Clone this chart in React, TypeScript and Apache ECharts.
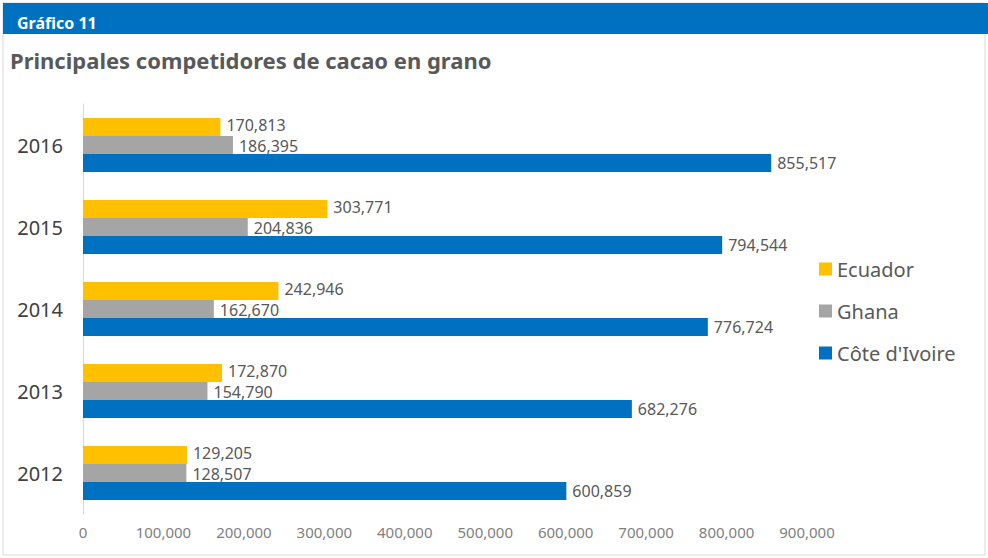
import React, { useEffect, useRef } from "react";
import * as echarts from "echarts";

const years = ["2012", "2013", "2014", "2015", "2016"];
const ecuador = [129205, 172870, 242946, 303771, 170813];
const ghana = [128507, 154790, 162670, 204836, 186395];
const coteDIvoire = [600859, 682276, 776724, 794544, 855517];
const seriesNames = ["Ecuador", "Ghana", "Côte d'Ivoire"];
const colors = ["#FFC000", "#A5A5A5", "#0070C0"];
const labelShift = [-2, 1, 0];

const FONT = "'Noto Sans', sans-serif";
const fmt = (v: number) => v.toLocaleString("en-US");

export default function App() {
  const ref = useRef<HTMLDivElement>(null);
  useEffect(() => {
    if (!ref.current) return;
    const chart = echarts.init(ref.current, null, { renderer: "svg" });
    const values = [ecuador, ghana, coteDIvoire];
    chart.setOption({
      animation: false,
      backgroundColor: "#ffffff",
      textStyle: { fontFamily: FONT },
      graphic: [
        {
          type: "rect",
          shape: { x: 3, y: 3, width: 982, height: 552 },
          style: { fill: "none", stroke: "#d9d9d9", lineWidth: 1 },
          silent: true,
        },
        {
          type: "rect",
          shape: { x: 3, y: 3, width: 985, height: 31 },
          style: { fill: "#0070C0" },
          silent: true,
        },
        {
          type: "text",
          left: 17,
          top: 15,
          style: { text: "Gráfico 11", fill: "#ffffff", font: `bold 16px ${FONT}` },
        },
        {
          type: "text",
          left: 10,
          top: 49,
          style: {
            text: "Principales competidores de cacao en grano",
            fill: "#595959",
            font: `bold 22px ${FONT}`,
          },
        },
      ],
      legend: {
        orient: "vertical",
        left: 814,
        top: 254,
        itemWidth: 13,
        itemHeight: 13,
        itemGap: 22,
        icon: "rect",
        data: seriesNames,
        textStyle: { color: "#595959", fontSize: 20, fontFamily: FONT },
      },
      grid: { left: 83, right: 181, top: 104, bottom: 44, containLabel: false },
      xAxis: {
        type: "value",
        min: 0,
        max: 900000,
        interval: 100000,
        splitLine: { show: false },
        axisLine: { show: false },
        axisTick: { show: false },
        axisLabel: {
          color: "#7f7f7f",
          fontSize: 15,
          margin: 10,
          formatter: (v: number) => fmt(v),
        },
      },
      yAxis: {
        type: "category",
        data: years,
        axisLine: { show: true, lineStyle: { color: "#d9d9d9" } },
        axisTick: { show: false },
        axisLabel: { color: "#404040", fontSize: 20, margin: 20 },
      },
      series: seriesNames.map((name, i) => ({
        name,
        type: "bar",
        data: values[i],
        barGap: "0%",
        barCategoryGap: "34%",
        itemStyle: { color: colors[i] },
        label: {
          show: true,
          position: "right",
          distance: 6,
          offset: [0, labelShift[i]],
          color: "#595959",
          fontSize: 16,
          lineHeight: 16,
          formatter: (p: any) => fmt(p.value),
        },
      })),
    });
    return () => chart.dispose();
  }, []);
  return <div ref={ref} style={{ width: 988, height: 558, position: "absolute", left: 0, top: 0 }} />;
}
